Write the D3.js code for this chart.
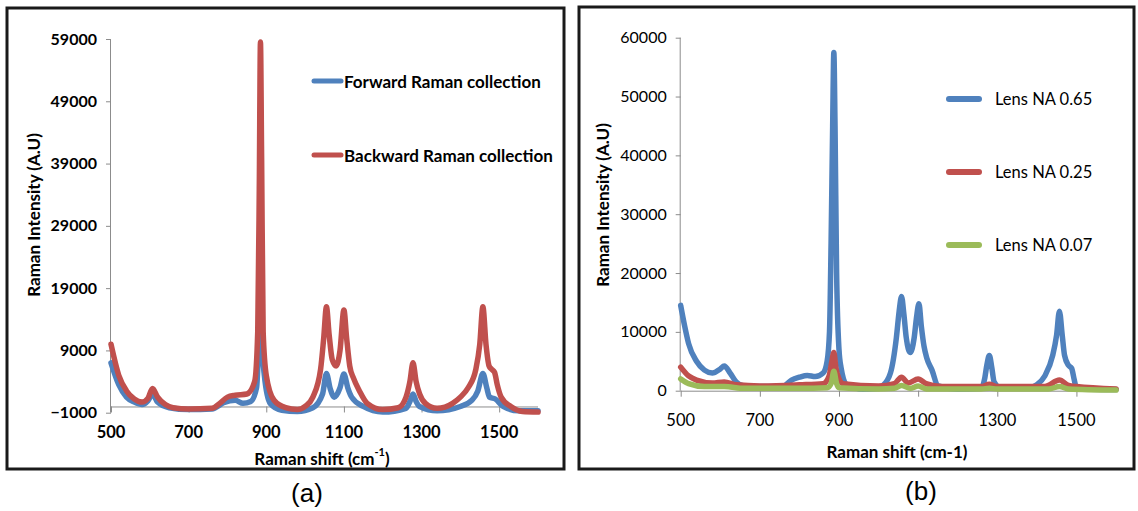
<!DOCTYPE html>
<html><head><meta charset="utf-8">
<script src="https://cdn.jsdelivr.net/npm/d3@7"></script>
<style>
body{margin:0;background:#fff;}
svg{display:block;}
text{font-family:Lato,"Open Sans",sans-serif;fill:#000;}
</style></head>
<body>
<svg id="c" width="1138" height="511"></svg>
<script>
// ---------- Data ----------
const xTicks = [500, 700, 900, 1100, 1300, 1500];
const yTicksA = [-1000, 9000, 19000, 29000, 39000, 49000, 59000];
const yTicksB = [0, 10000, 20000, 30000, 40000, 50000, 60000];

// Panel (a)
const forwardX = [500,520,540,560,580,595,607,620,650,700,760,790,820,840,860,875,880,885,890,895,910,940,980,1020,1045,1055,1065,1075,1090,1100,1110,1120,1150,1200,1260,1270,1278,1286,1295,1340,1400,1430,1445,1458,1468,1475,1490,1510,1550,1600];
const forwardY = [7000,3500,1500,700,300,900,2000,700,-200,-500,-400,600,1000,500,800,3000,9000,19500,9000,5000,500,-600,-800,-200,2000,5300,2800,1500,3000,5200,3000,1500,0,-900,-300,800,2000,800,0,-700,0,1000,2500,5300,3000,1500,1200,0,-700,-700];

const backwardX = [500,520,540,560,580,595,607,620,640,660,700,760,780,800,820,850,870,878,882,885,888,892,900,920,950,980,1000,1020,1040,1048,1055,1062,1070,1080,1090,1100,1107,1115,1125,1140,1160,1200,1240,1260,1270,1278,1286,1295,1310,1340,1380,1400,1420,1440,1450,1458,1466,1474,1480,1488,1495,1505,1530,1560,1600];
const backwardY = [10000,5000,2500,1200,700,1300,2900,1500,300,-200,-400,-300,500,1500,1800,2000,4000,12000,35000,58500,40000,12000,5000,1000,-200,-500,0,1500,6000,11000,16000,11500,7500,6500,9000,15500,11000,6500,4500,2500,500,-500,-200,1500,4000,7000,4000,2000,500,-300,500,1500,3000,6000,10000,16000,10000,6500,6000,5500,3500,1500,0,-800,-900];

// Panel (b)
const na065X = [500,510,520,540,560,580,600,610,625,640,660,700,760,780,800,820,840,860,870,876,880,884,887,890,894,900,905,920,960,1000,1010,1030,1045,1052,1058,1064,1070,1080,1090,1096,1102,1108,1115,1122,1135,1150,1200,1260,1268,1274,1280,1286,1292,1310,1380,1400,1420,1440,1450,1457,1464,1470,1480,1488,1494,1500,1520,1600];
const na065Y = [14500,11000,8000,5000,3500,3000,3700,4200,3000,1500,800,700,800,1800,2300,2600,2400,3000,5000,10000,25000,45000,57500,45000,20000,7000,4000,1000,300,400,800,3000,9000,13500,16000,13000,9000,6500,9000,12500,14800,11000,7500,5500,3500,800,300,400,2000,4500,6000,4000,1500,400,500,1000,2500,6000,9500,13500,9500,6000,4300,3800,2000,500,300,200];

const na025X = [500,520,540,580,610,640,700,800,860,875,882,887,892,900,910,1000,1040,1058,1075,1100,1120,1160,1260,1280,1300,1420,1457,1480,1500,1600];
const na025Y = [4000,2500,1800,1300,1500,1000,800,1000,1200,2500,5000,6500,4000,2000,1200,800,1200,2300,1300,2000,1200,700,700,1100,700,700,1800,900,700,300];

const na007X = [500,520,560,610,660,800,870,880,887,894,900,1000,1040,1058,1080,1100,1120,1260,1280,1300,1430,1457,1480,1600];
const na007Y = [2000,1200,700,700,400,400,500,1200,3300,1200,500,300,400,900,400,800,300,300,400,300,300,700,300,100];

const seriesA = [
  {name: "Forward Raman collection", color: "#4F81BD", xs: forwardX, ys: forwardY},
  {name: "Backward Raman collection", color: "#C0504D", xs: backwardX, ys: backwardY}
];
const seriesB = [
  {name: "Lens NA 0.65", color: "#4F81BD", xs: na065X, ys: na065Y},
  {name: "Lens NA 0.25", color: "#C0504D", xs: na025X, ys: na025Y},
  {name: "Lens NA 0.07", color: "#9BBB59", xs: na007X, ys: na007Y}
];

const svg = d3.select("#c");
const axisColor = "#8c8c8c";

function panel(cfg) {
  const g = svg.append("g");
  g.append("rect").attr("x", cfg.box[0]).attr("y", cfg.box[1])
    .attr("width", cfg.box[2]).attr("height", cfg.box[3])
    .attr("fill", "none").attr("stroke", "#1a1a1a").attr("stroke-width", 3);

  const x = d3.scaleLinear().domain([500, 1600]).range(cfg.xr);
  const y = d3.scaleLinear().domain(cfg.yd).range(cfg.yr);

  const ya = g.append("g").attr("transform", `translate(${cfg.xr[0]},0)`)
    .call(d3.axisLeft(y).tickValues(cfg.yTicks).tickSize(5).tickPadding(9).tickFormat(d3.format("d")));
  ya.select(".domain").attr("stroke", axisColor).attr("d", `M-0.5,${cfg.yr[1]}V${cfg.yr[0]}`);
  ya.selectAll(".tick line").attr("stroke", axisColor);
  ya.selectAll(".tick text").style("font-size", "16px").style("font-weight", cfg.bold ? 700 : 400).attr("fill", "#000");

  const y0 = y(0);
  const xa = g.append("g").attr("transform", `translate(0,${y0})`)
    .call(d3.axisBottom(x).tickValues(xTicks).tickSize(6).tickFormat(""));
  xa.select(".domain").attr("stroke", axisColor).attr("d", `M${cfg.xr[0]},0.5H${cfg.xr[1]}`);
  xa.selectAll(".tick line").attr("stroke", axisColor);
  g.selectAll(".xl").data(xTicks).enter().append("text")
    .attr("x", d => x(d)).attr("y", cfg.xLabelY).attr("text-anchor", "middle")
    .attr("dominant-baseline", "central")
    .style("font-size", "16.5px").style("font-weight", cfg.bold ? 700 : 400).text(d => d);

  const line = d3.line().curve(d3.curveMonotoneX).x(d => x(d[0])).y(d => y(d[1]));
  cfg.series.forEach(s => {
    const pts = s.xs.map((v, i) => [v, s.ys[i]]);
    g.append("path").datum(pts).attr("d", line).attr("fill", "none")
      .attr("stroke", s.color).attr("stroke-width", 5.5)
      .attr("stroke-linejoin", "round").attr("stroke-linecap", "round");
  });

  cfg.series.forEach((s, i) => {
    const ly = cfg.leg.y[i];
    g.append("line").attr("x1", cfg.leg.x1).attr("x2", cfg.leg.x2).attr("y1", ly).attr("y2", ly)
      .attr("stroke", s.color).attr("stroke-width", cfg.leg.w).attr("stroke-linecap", "round");
    g.append("text").attr("x", cfg.leg.tx).attr("y", ly).attr("dominant-baseline", "central")
      .style("font-size", cfg.leg.fs + "px").style("font-weight", cfg.leg.bold ? 700 : 400).text(s.name);
  });

  g.append("text").attr("transform", `translate(${cfg.yTitle[0]},${cfg.yTitle[1]}) rotate(-90)`)
    .attr("text-anchor", "middle").attr("dominant-baseline", "central")
    .style("font-size", "17px").style("font-weight", 700).text("Raman Intensity (A.U)");
  const xt = g.append("text").attr("x", cfg.xTitle[0]).attr("y", cfg.xTitle[1])
    .attr("text-anchor", "middle").attr("dominant-baseline", "central")
    .style("font-size", "17px").style("font-weight", 700);
  if (cfg.sup) {
    xt.append("tspan").text("Raman shift (cm");
    xt.append("tspan").attr("dy", -7).style("font-size", "11px").text("-1");
    xt.append("tspan").attr("dy", 7).text(")");
  } else {
    xt.text("Raman shift (cm-1)");
  }
  svg.append("text").attr("x", cfg.cap[0]).attr("y", cfg.cap[1]).attr("text-anchor", "middle")
    .attr("dominant-baseline", "central")
    .style("font-family", "'Liberation Sans', Arial, sans-serif").style("font-size", "26px")
    .text(cfg.capText);
}

panel({
  box: [7, 8, 557, 461],
  xr: [111, 538], yd: [-1000, 59000], yr: [412.7, 39], yTicks: yTicksA,
  bold: true, xLabelY: 432, series: seriesA,
  leg: {x1: 314, x2: 341, tx: 344, y: [81, 155], w: 5, fs: 17, bold: true},
  yTitle: [33, 215], xTitle: [322, 458], sup: true,
  cap: [307, 493], capText: "(a)"
});
panel({
  box: [579, 7, 555, 462],
  xr: [680.7, 1116], yd: [0, 60000], yr: [390.7, 37.7], yTicks: yTicksB,
  bold: false, xLabelY: 420, series: seriesB,
  leg: {x1: 949, x2: 979, tx: 995, y: [99, 172, 245], w: 6, fs: 16.5, bold: false},
  yTitle: [602, 205], xTitle: [897, 451], sup: false,
  cap: [921, 491], capText: "(b)"
});
</script>
</body></html>
